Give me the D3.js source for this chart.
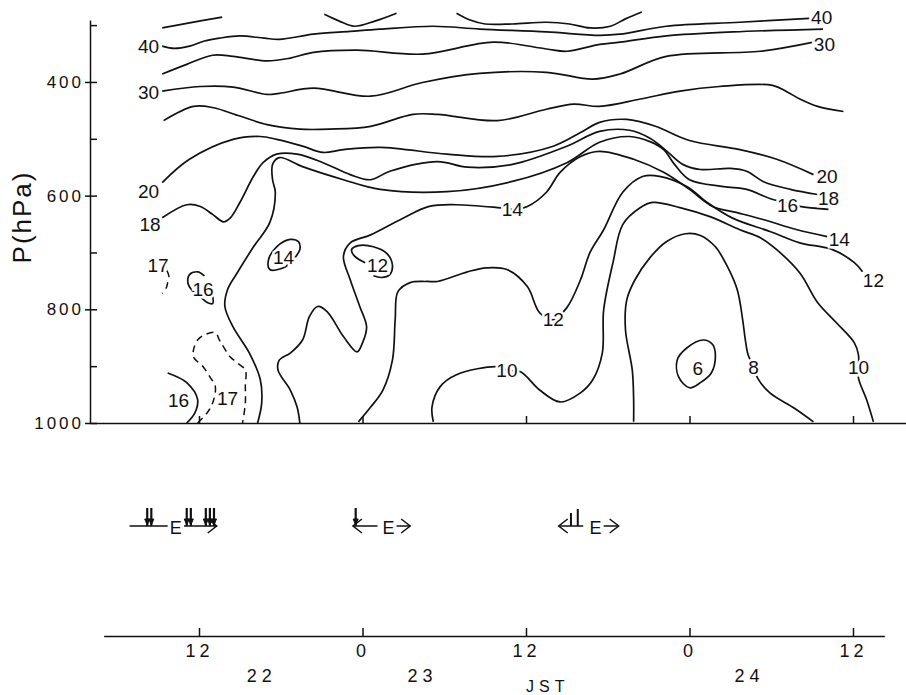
<!DOCTYPE html>
<html>
<head>
<meta charset="utf-8">
<script src="https://cdn.jsdelivr.net/npm/d3@7"></script>
<style>
body { margin: 0; background: #fff; }
svg { display: block; }
text { font-family: "Liberation Sans", Arial, sans-serif; fill: #111; }
</style>
</head>
<body>
<svg id="chart" width="906" height="695"></svg>
<script>
// contour points: [hours after 00 JST on the 22nd, pressure hPa]
var top50a = [[9.3,305],[11.3,296],[13.7,286]];
var top50b = [[21.2,281],[22.3,293],[23.4,302],[24.9,293],[26.5,279]];
var top50c = [[30.9,279],[31.9,291],[33.0,298],[35.0,298],[37.5,295],[39.2,298],[40.7,305],[42.2,302],[43.3,289],[44.5,277]];
var c40 = [[9.3,337],[10.2,341],[11.3,337],[12.4,328],[13.5,323],[15.0,319],[16.8,323],[17.9,325],[20.4,316],[23.1,311],[25.3,307],[29.2,302],[32.6,307],[37.5,312],[41.4,318],[42.9,316],[46.3,302],[51.7,295],[56.8,288]];
var c35 = [[9.3,386],[11.1,369],[13.0,353],[14.5,355],[17.0,363],[18.7,358],[20.4,348],[23.6,344],[28.4,351],[33.6,330],[37.5,342],[39.0,346],[41.4,334],[42.9,330],[46.3,319],[51.2,312],[57.8,307]];
var c30 = [[9.3,416],[12.1,408],[14.5,409],[17.0,422],[17.9,420],[20.4,411],[24.6,425],[28.4,401],[32.6,385],[37.5,383],[40.9,395],[42.9,386],[46.3,355],[53.2,346],[57.1,330]];
var c25 = [[9.4,468],[11.6,443],[13.0,445],[15.0,460],[17.0,475],[19.4,483],[21.6,483],[24.6,478],[27.7,457],[29.5,457],[33.9,468],[37.5,448],[39.5,439],[41.4,443],[44.4,430],[47.3,416],[50.2,408],[54.1,406],[55.2,418],[56.1,430],[57.4,443],[59.3,452]];
var c20 = [[9.3,577],[11.3,536],[14.5,501],[16.5,496],[17.7,501],[19.6,513],[21.1,524],[22.6,519],[25.3,515],[30.2,527],[33.9,531],[38.0,513],[40.0,489],[41.4,471],[43.4,466],[45.5,478],[48.0,503],[51.7,519],[54.4,536],[57.1,563]];
var c18 = [[9.3,639],[11.1,616],[12.1,619],[13.0,633],[13.8,646],[14.3,639],[15.0,612],[16.0,566],[16.7,542],[17.7,527],[19.2,527],[21.1,542],[23.1,563],[24.6,572],[26.0,557],[29.5,540],[31.7,550],[35.0,545],[39.0,513],[41.4,487],[43.6,485],[45.1,499],[46.2,519],[47.5,545],[48.8,554],[51.0,552],[52.2,557],[53.4,575],[55.4,589],[57.4,598]];
var c16 = [[16.3,1000],[16.6,965],[16.5,924],[15.7,877],[14.5,831],[13.9,795],[14.1,765],[14.8,736],[16.0,690],[17.2,647],[17.6,594],[17.4,572],[17.4,545],[17.9,533],[19.6,549],[22.6,572],[25.3,589],[30.2,593],[35.0,575],[39.0,542],[41.4,506],[43.6,496],[45.1,505],[46.1,519],[46.9,545],[48.0,572],[50.5,584],[52.2,589],[53.9,605],[55.2,613],[56.1,619],[58.2,624]];
var c14 = [[19.4,1000],[19.2,972],[18.7,942],[17.8,907],[17.9,889],[18.7,877],[19.6,854],[20.1,813],[20.7,795],[21.4,804],[22.6,848],[23.6,875],[24.0,859],[24.3,831],[23.8,795],[23.1,748],[22.6,707],[23.1,683],[24.6,669],[26.8,642],[28.9,619],[30.9,616],[33.9,621],[35.0,624],[36.1,619],[37.5,594],[38.5,559],[40.0,531],[41.4,522],[43.9,536],[46.1,559],[48.0,589],[49.7,619],[51.5,630],[53.4,642],[55.9,660],[58.1,672]];
var c12 = [[23.7,998],[24.6,972],[25.5,942],[26.2,889],[26.4,818],[26.6,769],[27.5,753],[28.7,751],[29.5,751],[31.7,734],[33.1,727],[34.6,730],[36.1,760],[37.0,806],[38.0,818],[39.0,797],[40.0,748],[40.7,700],[41.7,660],[43.1,594],[44.6,566],[45.8,566],[47.8,584],[49.3,612],[51.2,640],[53.9,663],[56.1,683],[58.5,695],[60.1,718],[60.7,734]];
var c10 = [[29.2,998],[29.1,972],[29.7,936],[30.9,915],[33.9,901],[34.6,907],[35.6,910],[37.0,942],[38.5,963],[40.0,947],[40.9,924],[41.6,877],[41.7,801],[42.4,716],[43.1,651],[44.4,621],[45.3,612],[47.3,621],[49.5,637],[51.7,660],[53.2,674],[54.4,695],[56.1,736],[57.4,788],[58.8,824],[60.1,859],[60.4,880],[60.4,901],[60.4,921],[61.0,959],[61.5,998]];
var c8 = [[43.9,998],[43.9,959],[43.8,907],[43.3,836],[43.4,783],[44.0,748],[45.1,709],[46.3,681],[47.7,667],[48.8,670],[49.9,690],[50.7,721],[51.5,765],[51.9,818],[52.1,854],[52.3,880],[52.7,901],[53.0,921],[53.9,947],[55.7,974],[57.1,998]];
var c6 = [[48.0,938],[47.2,919],[47.1,889],[47.8,868],[49.0,854],[49.7,862],[49.9,884],[49.6,912],[48.8,929]];
var c12s = [[24.2,718],[23.4,706],[23.2,695],[23.7,688],[24.8,690],[25.8,702],[26.2,723],[26.0,739],[25.4,744],[24.8,741]];
var c14s = [[17.2,730],[17.1,713],[17.7,690],[18.7,677],[19.3,681],[19.4,695],[18.9,713],[18.2,727]];
var c16s = [[12.4,741],[11.9,734],[11.3,739],[11.2,755],[11.5,767],[12.1,778],[12.6,788],[13.0,790],[13.0,776]];
var c17s = [[9.65,732],[9.8,743],[9.7,753],[9.6,762],[9.3,772]];
var c16b = [[9.7,912],[11.1,929],[11.9,959],[11.7,982],[11.1,1000]];
var c17b = [[11.9,1000],[12.6,982],[13.0,965],[13.2,936],[12.8,919],[12.3,901],[11.6,884],[11.6,871],[11.9,854],[12.4,845],[13.2,841],[13.5,854],[13.8,866],[14.3,884],[14.8,894],[15.4,907],[15.4,936],[15.4,965],[15.2,1000]];

var solidLines = [top50a, top50b, top50c, c40, c35, c30, c25, c20, c18, c16, c14, c12, c10, c8, c12s, c16s, c16b];
var closedLines = [c6, c14s];
var dashedLines = [c17s, c17b];

// contour labels: [text, hour, hPa]
var contourLabels = [
  ["40", 8.3, 337], ["30", 8.3, 418], ["20", 8.3, 593], ["18", 8.4, 651], ["17", 9.0, 723],
  ["16", 12.3, 765], ["14", 18.2, 709], ["12", 25.1, 723], ["16", 10.5, 959], ["17", 14.1, 956],
  ["14", 35.0, 624], ["12", 38.0, 818], ["10", 34.6, 907],
  ["40", 57.7, 286], ["30", 57.9, 334], ["20", 58.1, 566], ["18", 58.2, 605], ["16", 55.2, 616],
  ["14", 59.0, 677], ["12", 61.5, 748], ["10", 60.4, 901], ["8", 52.7, 901], ["6", 48.6, 903]
];

var pTicks = [300, 400, 500, 600, 700, 800, 900, 1000];
var pLabels = [400, 600, 800, 1000];
var timeTicks = [12, 24, 36, 48, 60];
var days = [["22", 16.6], ["23", 28.4], ["24", 52.4]];

// passage marks under the section
var marks = [
  {segs: [[6.9, 9.7], [10.9, 13.3]], e: 10.3, left: null, right: 13.3, arrows: [8.2, 8.5, 11.1, 11.4, 12.5, 12.8, 13.1], bars: []},
  {segs: [[23.3, 25.1], [26.5, 27.5]], e: 25.9, left: 23.3, right: 27.5, arrows: [23.5], bars: []},
  {segs: [[38.4, 40.2], [41.7, 42.8]], e: 41.1, left: 38.4, right: 42.8, arrows: [], bars: [39.3, 39.8]}
];

var svg = d3.select("#chart");

var x = d3.scaleLinear().domain([4, 64]).range([90, 907.5]);
var y = d3.scaleLinear().domain([291, 1000]).range([20, 423]);
var xLow = x.copy().domain([5, 62.3]).range([x(5), x(62.3)]);

var line = d3.line()
    .x(function(d) { return x(d[0]); })
    .y(function(d) { return y(d[1]); })
    .curve(d3.curveCatmullRom.alpha(0.5));
var loop = d3.line()
    .x(function(d) { return x(d[0]); })
    .y(function(d) { return y(d[1]); })
    .curve(d3.curveCatmullRomClosed.alpha(0.5));

var g = svg.append("g");

g.selectAll(".solid")
  .data(solidLines)
  .enter().append("path")
    .attr("fill", "none")
    .attr("stroke", "#111")
    .attr("stroke-width", 1.7)
    .attr("stroke-linejoin", "round")
    .attr("d", line);

g.selectAll(".closed")
  .data(closedLines)
  .enter().append("path")
    .attr("fill", "none")
    .attr("stroke", "#111")
    .attr("stroke-width", 1.7)
    .attr("d", loop);

g.selectAll(".dashed")
  .data(dashedLines)
  .enter().append("path")
    .attr("fill", "none")
    .attr("stroke", "#111")
    .attr("stroke-width", 1.5)
    .attr("stroke-dasharray", "7,5")
    .attr("d", line);

g.selectAll(".clabel")
  .data(contourLabels)
  .enter().append("text")
    .attr("x", function(d) { return x(d[1]); })
    .attr("y", function(d) { return y(d[2]); })
    .attr("dy", "0.36em")
    .attr("text-anchor", "middle")
    .attr("font-size", 19)
    .attr("stroke", "#fff")
    .attr("stroke-width", 5)
    .attr("paint-order", "stroke")
    .text(function(d) { return d[0]; });

// pressure axis
var yAxis = d3.axisLeft(y)
    .tickValues(pTicks)
    .tickSizeInner(-7)
    .tickSizeOuter(0)
    .tickPadding(6)
    .tickFormat(function(d) { return pLabels.indexOf(d) >= 0 ? d : ""; });
var ya = svg.append("g")
    .attr("class", "paxis")
    .attr("transform", "translate(" + x(4) + ",0)")
    .call(yAxis);
ya.selectAll("line").filter(function(d) { return pLabels.indexOf(d) >= 0; }).attr("x1", -5);

// 1000 hPa base line
var xAxis = d3.axisBottom(x)
    .tickValues(timeTicks)
    .tickSizeInner(-7)
    .tickSizeOuter(0)
    .tickFormat("");
svg.append("g")
    .attr("transform", "translate(0," + y(1000) + ")")
    .call(xAxis);

// time axis
var tAxis = d3.axisBottom(xLow)
    .tickValues(timeTicks)
    .tickSizeInner(-8)
    .tickSizeOuter(0)
    .tickPadding(8)
    .tickFormat(function(d) { return d % 24; });
svg.append("g")
    .attr("class", "taxis")
    .attr("transform", "translate(0,636)")
    .call(tAxis);

svg.selectAll(".domain, .tick line").attr("stroke", "#111").attr("stroke-width", 1.5);
svg.selectAll(".tick text")
    .attr("fill", "#111")
    .style("font-family", "'Liberation Sans', Arial, sans-serif");
svg.selectAll(".paxis .tick text")
    .style("font-size", "17px")
    .style("letter-spacing", "3px");
svg.selectAll(".taxis .tick text")
    .style("font-size", "18px")
    .style("letter-spacing", "4px");

svg.selectAll(".day")
  .data(days)
  .enter().append("text")
    .attr("x", function(d) { return x(d[1]); })
    .attr("y", 682)
    .attr("text-anchor", "middle")
    .attr("font-size", 18)
    .style("letter-spacing", "5px")
    .text(function(d) { return d[0]; });

svg.append("text")
    .attr("x", x(37.6))
    .attr("y", 692)
    .attr("text-anchor", "middle")
    .attr("font-size", 16)
    .style("letter-spacing", "5px")
    .text("JST");

svg.append("text")
    .attr("transform", "translate(22,217)rotate(-90)")
    .attr("dy", "0.35em")
    .attr("text-anchor", "middle")
    .attr("font-size", 26)
    .style("letter-spacing", "2px")
    .text("P(hPa)");

// marks row
var my = 526;
var mg = svg.append("g").attr("stroke", "#111").attr("fill", "none");
marks.forEach(function(m) {
  m.segs.forEach(function(s) {
    mg.append("line").attr("x1", x(s[0])).attr("x2", x(s[1])).attr("y1", my).attr("y2", my).attr("stroke-width", 1.5);
  });
  if (m.right != null) {
    mg.append("path").attr("stroke-width", 1.5)
      .attr("d", "M" + (x(m.right) - 9) + "," + (my - 7) + "L" + x(m.right) + "," + my + "L" + (x(m.right) - 9) + "," + (my + 7));
  }
  if (m.left != null) {
    mg.append("path").attr("stroke-width", 1.5)
      .attr("d", "M" + (x(m.left) + 9) + "," + (my - 7) + "L" + x(m.left) + "," + my + "L" + (x(m.left) + 9) + "," + (my + 7));
  }
  m.arrows.forEach(function(a) {
    mg.append("line").attr("x1", x(a)).attr("x2", x(a)).attr("y1", my - 18).attr("y2", my).attr("stroke-width", 2.2);
    mg.append("path").attr("fill", "#111").attr("stroke-width", 1)
      .attr("d", "M" + (x(a) - 2.5) + "," + (my - 7) + "L" + x(a) + "," + (my - 1) + "L" + (x(a) + 2.5) + "," + (my - 7) + "Z");
  });
  m.bars.forEach(function(b, i) {
    mg.append("line").attr("x1", x(b)).attr("x2", x(b)).attr("y1", my - 13 - i * 4).attr("y2", my).attr("stroke-width", 2);
  });
  svg.append("text")
    .attr("x", x(m.e))
    .attr("y", my + 8)
    .attr("text-anchor", "middle")
    .attr("font-size", 18)
    .text("E");
});
</script>
</body>
</html>
